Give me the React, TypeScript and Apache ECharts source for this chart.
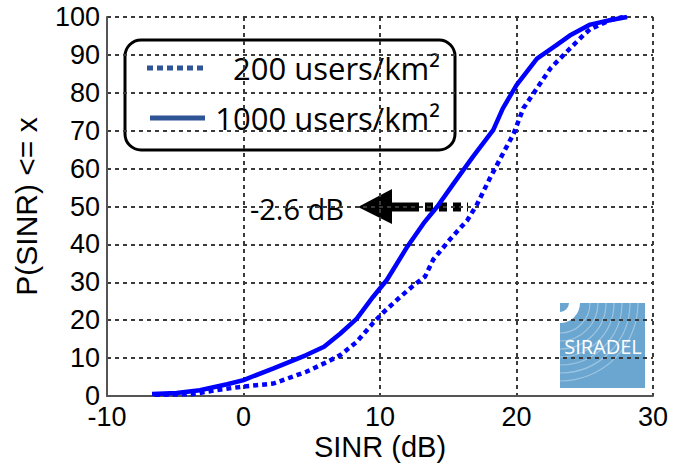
import React, { useEffect, useRef } from "react";
import * as echarts from "echarts";

// SINR CDF data
const solidX = [-6.7, -4.9, -3.2, -1.2, 0, 2.2, 4.6, 5.9, 7.1, 8.3, 9.5, 10.5, 12.0, 13.2, 14.2, 15.4, 16.8, 18.3, 19.0, 20.0, 21.5, 22.9, 23.9, 25.4, 26.9, 28.1];
const solidY = [0.5, 0.8, 1.5, 3.1, 4.2, 7.3, 10.8, 13, 16.5, 20.4, 26.2, 30.6, 39.4, 45.6, 50, 56.1, 63.1, 70.2, 75.9, 82, 89, 92.5, 95.1, 98, 99.2, 100];

const dottedX = [-6.5, -3.7, -1.9, 0, 2.2, 4.6, 5.9, 7.1, 8.3, 9.5, 10.2, 11.5, 12.4, 13.3, 13.9, 15.1, 16.4, 17.1, 18.1, 19.0, 19.8, 20.5, 21.5, 22.5, 23.7, 24.9, 25.4, 26.9, 27.8];
const dottedY = [0.3, 0.5, 1.6, 2.5, 3.3, 6.4, 8.6, 10.8, 14.3, 19.3, 21.9, 26.2, 29, 31.5, 36, 41.2, 46.4, 50.5, 57.8, 63.9, 69.3, 75.9, 81.2, 86.5, 90.9, 95.2, 96.8, 99.2, 100];

const seriesNames = ["200 users/km²", "1000 users/km²"];
const xTicks = { min: -10, max: 30, interval: 10 };
const yTicks = { min: 0, max: 100, interval: 10 };
const annotationText = "-2.6 dB";
const logoText = "SIRADEL";

function pairs(xs: number[], ys: number[]) {
  return xs.map((x, i) => [x, ys[i]]);
}

export default function App() {
  const ref = useRef<HTMLDivElement>(null);
  useEffect(() => {
    if (!ref.current) return;
    const chart = echarts.init(ref.current, null, { renderer: "svg" });
    const gridColor = "#3a3a3a";
    const legendColor = "#2f5597";
    const arcs: any[] = [];
    for (let r = 30; r <= 82; r += 8) {
      arcs.push({
        type: "arc",
        shape: { cx: 560, cy: 303, r, startAngle: 0, endAngle: Math.PI / 2, clockwise: true },
        style: { stroke: "rgba(255,255,255,0.35)", fill: "none", lineWidth: 1.2 },
      });
    }
    chart.setOption({
      animation: false,
      grid: { left: 107, right: 33, top: 17, bottom: 70, containLabel: false, outerBoundsMode: "none" },
      xAxis: {
        type: "value",
        min: xTicks.min,
        max: xTicks.max,
        interval: xTicks.interval,
        name: "SINR (dB)",
        nameLocation: "middle",
        nameGap: 36,
        nameMoveOverlap: false,
        nameTextStyle: { fontFamily: "Liberation Sans", fontSize: 29, lineHeight: 29, color: "#000" },
        axisLine: { show: true, onZero: false, lineStyle: { color: "#555", width: 2 } },
        axisTick: { show: false },
        axisLabel: { fontFamily: "Liberation Sans", fontSize: 27, lineHeight: 22, color: "#000", margin: 10 },
        splitLine: { show: true, lineStyle: { color: gridColor, type: [4, 4], width: 2 } },
        z: 1,
      },
      yAxis: {
        type: "value",
        min: yTicks.min,
        max: yTicks.max,
        interval: yTicks.interval,
        name: "P(SINR) <= x",
        nameLocation: "middle",
        nameGap: 66,
        nameMoveOverlap: false,
        nameTextStyle: { fontFamily: "Liberation Sans", fontSize: 30, color: "#000" },
        axisLine: { show: true, onZero: false, lineStyle: { color: "#555", width: 2 } },
        axisTick: { show: false },
        axisLabel: { fontFamily: "Liberation Sans", fontSize: 27, lineHeight: 22, color: "#000", margin: 7 },
        splitLine: { show: true, lineStyle: { color: gridColor, type: [4, 4], width: 2 } },
        z: 1,
      },
      series: [
        {
          name: seriesNames[0],
          type: "line",
          data: pairs(dottedX, dottedY),
          showSymbol: false,
          lineStyle: { color: "#0000ff", width: 4.5, type: [5, 4] },
          z: 3,
        },
        {
          name: seriesNames[1],
          type: "line",
          data: pairs(solidX, solidY),
          showSymbol: false,
          lineStyle: { color: "#0000ff", width: 4.5, type: "solid" },
          z: 3,
        },
      ],
      graphic: [
        {
          type: "group",
          z: -1,
          children: [
            { type: "rect", shape: { x: 560, y: 303, width: 85, height: 85 }, style: { fill: "#6ba6d0" } },
            ...arcs,
            {
              type: "sector",
              shape: { cx: 560, cy: 303, r0: 9, r: 20, startAngle: 0, endAngle: Math.PI / 2 },
              style: { fill: "#ffffff" },
            },
            {
              type: "text",
              x: 603,
              y: 346,
              style: {
                text: logoText,
                fill: "#ffffff",
                font: "20px 'Open Sans'",
                textAlign: "center",
                textVerticalAlign: "middle",
              },
            },
          ],
        },
        {
          type: "group",
          z: 100,
          children: [
            {
              type: "rect",
              shape: { x: 125, y: 40, width: 330, height: 110, r: 16 },
              style: { fill: "#ffffff", stroke: "#000", lineWidth: 3 },
            },
            {
              type: "line",
              shape: { x1: 147, y1: 68, x2: 204, y2: 68 },
              style: { stroke: legendColor, lineWidth: 5, lineDash: [6, 4] },
            },
            {
              type: "line",
              shape: { x1: 150, y1: 118, x2: 205, y2: 118 },
              style: { stroke: legendColor, lineWidth: 5 },
            },
            {
              type: "text",
              x: 440,
              y: 68,
              style: {
                text: seriesNames[0],
                fill: "#000",
                font: "31px 'Open Sans'",
                textAlign: "right",
                textVerticalAlign: "middle",
              },
            },
            {
              type: "text",
              x: 440,
              y: 118,
              style: {
                text: seriesNames[1],
                fill: "#000",
                font: "31px 'Open Sans'",
                textAlign: "right",
                textVerticalAlign: "middle",
              },
            },
          ],
        },
        {
          type: "group",
          z: 100,
          children: [
            {
              type: "text",
              x: 344,
              y: 208,
              style: {
                text: annotationText,
                fill: "#000",
                font: "29px 'Open Sans'",
                textAlign: "right",
                textVerticalAlign: "middle",
              },
            },
            {
              type: "polygon",
              shape: { points: [[358, 207], [392, 189], [392, 224]] },
              style: { fill: "#000" },
            },
            {
              type: "line",
              shape: { x1: 390, y1: 207, x2: 411, y2: 207 },
              style: { stroke: "#000", lineWidth: 9 },
            },
            {
              type: "line",
              shape: { x1: 411, y1: 207, x2: 468, y2: 207 },
              style: { stroke: "#000", lineWidth: 9, lineDash: [8, 6] },
            },
          ],
        },
      ],
    });
    return () => chart.dispose();
  }, []);
  return (
    <div
      ref={ref}
      style={{ position: "fixed", left: 0, top: 0, width: 686, height: 466, background: "#fff" }}
    />
  );
}
